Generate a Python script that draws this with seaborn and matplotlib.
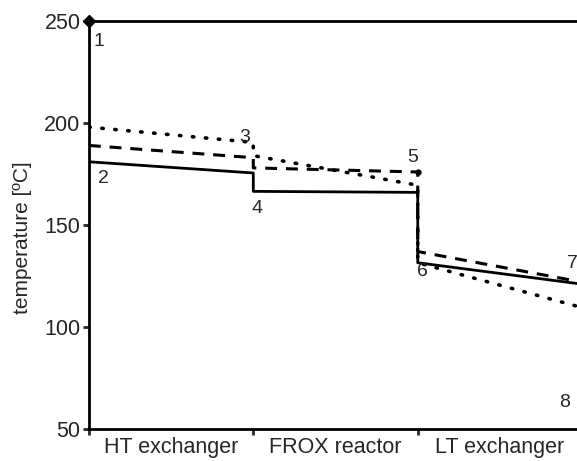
import numpy as np
import pandas as pd
from matplotlib import pyplot as plt
import seaborn as sns

# temperature profile along the process chain
x_pos = [0, 0, 1, 1, 2, 2, 3]
solid_y = [250, 181, 175.5, 166.5, 166, 131.5, 121]
dashed_y = [189, 189, 183, 178, 176, 137, 122]
dotted_y = [198, 198, 190.5, 184, 169.5, 131.5, 109.5]

sections = ["HT exchanger", "FROX reactor", "LT exchanger"]
point_labels = ["1", "2", "3", "4", "5", "6", "7", "8"]
label_x = [0.06, 0.09, 0.95, 1.02, 1.97, 2.03, 2.94, 2.89]
label_y = [240, 173, 193, 158, 183, 127, 131, 63]

sns.set_style("ticks")
plt.rcParams['font.family'] = ['Liberation Sans', 'DejaVu Sans']

fig = plt.figure(figsize=(5.77, 4.61), dpi=100)
ax = fig.add_axes([0.154, 0.0694, 0.855, 0.885])

df = pd.DataFrame({"x": x_pos, "solid": solid_y, "dashed": dashed_y, "dotted": dotted_y})

sns.lineplot(data=df, x="x", y="solid", estimator=None, sort=False,
             color="black", lw=2, ax=ax)
sns.lineplot(data=df.iloc[1:], x="x", y="dashed", estimator=None, sort=False,
             color="black", lw=2.2, ax=ax, linestyle=(0, (3.9, 2.9)))
sns.lineplot(data=df.iloc[1:], x="x", y="dotted", estimator=None, sort=False,
             color="black", lw=2.6, ax=ax, linestyle=(0, (0.4, 3.2)),
             dash_capstyle="round")

# start point marker
ax.plot(x_pos[0], solid_y[0], marker="D", color="black", ms=6, clip_on=False)
ax.plot(2, dashed_y[4], marker="o", color="black", ms=3.5, clip_on=False)

for t, lx, ly in zip(point_labels, label_x, label_y):
    ax.text(lx, ly, t, fontsize=14, ha="center", va="center")

ax.set_xlim(0, 3)
ax.set_ylim(50, 250)
ax.set_xticks([0, 1, 2, 3])
ax.set_xticklabels([])
ax.set_xticks([0.5, 1.5, 2.5], minor=True)
ax.set_xticklabels(sections, minor=True, fontsize=15.5)
ax.tick_params(axis="x", which="minor", length=0, pad=6)
ax.tick_params(axis="x", which="major", length=4, width=2, direction="out")
ax.set_yticks([50, 100, 150, 200, 250])
ax.tick_params(axis="y", length=4, width=2, labelsize=15.5, pad=2)

for s in ax.spines.values():
    s.set_linewidth(2)
    s.set_color("black")

ax.set_xlabel("")
ax.set_ylabel("temperature [ºC]", fontsize=15)
ax.yaxis.set_label_coords(-0.115, 0.468)

plt.savefig("out.png", dpi=100)
